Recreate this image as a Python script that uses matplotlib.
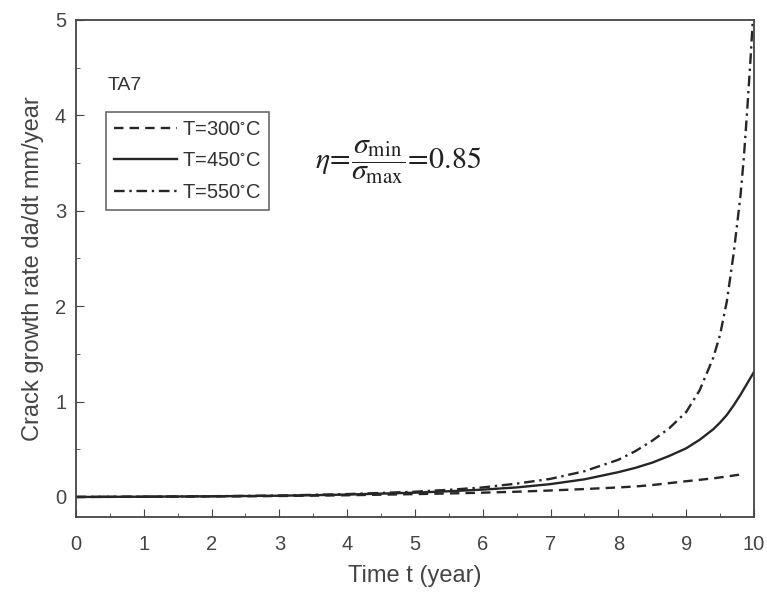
import numpy as np
import matplotlib.pyplot as plt
from matplotlib import rcParams
from matplotlib.ticker import MultipleLocator

rcParams['font.family'] = ['Liberation Sans', 'DejaVu Sans']
rcParams['mathtext.fontset'] = 'stix'

# values
t = [0, 1, 2, 3, 4, 5, 5.5, 6, 6.5, 7, 7.5, 8, 8.25, 8.5, 8.75, 9, 9.2, 9.4, 9.5,
     9.6, 9.7, 9.8, 9.85, 9.9, 9.95, 10.0]
rate_300 = [0.0, 0.002, 0.005, 0.01, 0.018, 0.03, 0.037, 0.045, 0.055, 0.068, 0.083, 0.1,
            0.11, 0.125, 0.145, 0.165, 0.18, 0.195, 0.205, 0.215, 0.225, 0.235, 0.24,
            None, None, None]
rate_450 = [0.0, 0.003, 0.007, 0.013, 0.025, 0.045, 0.06, 0.077, 0.1, 0.135, 0.185, 0.26,
            0.305, 0.36, 0.43, 0.51, 0.6, 0.71, 0.78, 0.86, 0.96, 1.07, 1.13, 1.19, 1.25, 1.31]
rate_550 = [0.0, 0.003, 0.008, 0.015, 0.03, 0.055, 0.075, 0.1, 0.14, 0.19, 0.27, 0.39,
            0.48, 0.59, 0.72, 0.89, 1.12, 1.46, 1.7, 2.05, 2.55, 3.15, 3.55, 4.05, 4.6, 5.2]

labels = ['T=300$^{\\circ}$C', 'T=450$^{\\circ}$C', 'T=550$^{\\circ}$C']

fig = plt.figure(figsize=(7.67, 5.97), dpi=100)
ax = fig.add_axes([0.099, 0.134, 0.884, 0.8325])

lc = '#262626'
t300 = [a for a, b in zip(t, rate_300) if b is not None]
r300 = [b for b in rate_300 if b is not None]
ax.plot(t300, r300, color=lc, ls=(0, (4, 2.6)), lw=1.7, label=labels[0])
ax.plot(t, rate_450, color=lc, ls='-', lw=1.7, label=labels[1])
ax.plot(t, rate_550, color=lc, ls=(0, (4.5, 2, 1, 2)), lw=1.7, label=labels[2])

ax.set_xlim(0, 10)
ax.set_ylim(-0.21, 5)
ax.xaxis.set_major_locator(MultipleLocator(1))
ax.xaxis.set_minor_locator(MultipleLocator(0.5))
ax.yaxis.set_major_locator(MultipleLocator(1))
ax.yaxis.set_minor_locator(MultipleLocator(0.5))
ax.tick_params(which='both', direction='in', colors='#444444', labelsize=14.5,
               top=False, right=False)
ax.tick_params(which='major', length=6)
ax.tick_params(which='minor', length=3)
ax.tick_params(axis='x', which='major', pad=13)
ax.tick_params(axis='y', which='major', pad=7)
for s in ax.spines.values():
    s.set_color('#444444')
    s.set_linewidth(1.3)

ax.set_xlabel('Time t (year)', fontsize=17, color='#444444', labelpad=8)
ax.set_ylabel('Crack growth rate da/dt mm/year', fontsize=17, color='#444444', labelpad=8)

ax.text(0.047, 0.86, 'TA7', transform=ax.transAxes, fontsize=14, color='#333333')
leg = ax.legend(loc='upper left', bbox_to_anchor=(0.045, 0.815), fontsize=14.5,
                frameon=True, fancybox=False, edgecolor='#444444',
                handlelength=3.1, borderpad=0.4, labelspacing=0.62, handletextpad=0.25,
                borderaxespad=0.0)
leg.get_frame().set_linewidth(1.2)
for txt in leg.get_texts():
    txt.set_color('#333333')

ax.text(0.353, 0.714, r'$\eta\!=\!\dfrac{\sigma_{\rm min}}{\sigma_{\rm max}}\!=\!0.85$',
        transform=ax.transAxes, fontsize=21.5, color='#222222', va='center')

fig.savefig('out.png', dpi=100)
